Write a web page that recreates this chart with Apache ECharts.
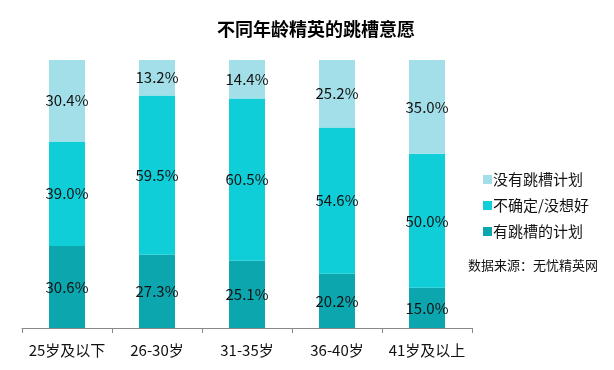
<!DOCTYPE html>
<html><head><meta charset="utf-8">
<script src="https://cdn.jsdelivr.net/npm/echarts@6/dist/echarts.min.js"></script>
<style>html,body{margin:0;padding:0;background:#fff}#c{width:614px;height:370px}</style>
</head><body><div id="c"></div>
<script>
var categories = ['25岁及以下', '26-30岁', '31-35岁', '36-40岁', '41岁及以上'];
var planToJump = [30.6, 27.3, 25.1, 20.2, 15.0];
var unsure = [39.0, 59.5, 60.5, 54.6, 50.0];
var noPlan = [30.4, 13.2, 14.4, 25.2, 35.0];
var seriesNames = ['有跳槽的计划', '不确定/没想好', '没有跳槽计划'];
var titleText = '不同年龄精英的跳槽意愿';
var sourceText = '数据来源：无忧精英网';

var FONT = '"Noto Sans CJK SC", "Microsoft YaHei", sans-serif';
var chart = echarts.init(document.getElementById('c'));
function mk(name, data, color) {
  return {
    name: name, type: 'bar', stack: 'a', data: data, barWidth: 36,
    itemStyle: { color: color },
    label: { show: true, position: 'inside', color: '#111', fontSize: 15, fontFamily: FONT,
      formatter: function (p) { return p.value.toFixed(1) + '%'; } }
  };
}
chart.setOption({
  animation: false,
  title: { text: titleText, left: 311, top: 15, textAlign: 'center',
    textStyle: { fontSize: 18, fontWeight: 'bold', color: '#000', fontFamily: FONT } },
  legend: {
    data: [seriesNames[2], seriesNames[1], seriesNames[0]],
    orient: 'vertical', left: 478, top: 167, itemGap: 11,
    itemWidth: 9, itemHeight: 9, icon: 'rect',
    textStyle: { fontSize: 15, color: '#111', fontFamily: FONT, padding: [0, 0, 0, -4] }
  },
  graphic: [{ type: 'text', left: 468, top: 259,
    style: { text: sourceText, fontSize: 13, fill: '#111', fontFamily: FONT } }],
  grid: { left: 22, top: 60, width: 450, height: 268 },
  xAxis: { type: 'category', data: categories,
    axisLine: { lineStyle: { color: '#888' } },
    axisTick: { show: true, length: 5, lineStyle: { color: '#888' } },
    axisLabel: { fontSize: 15, color: '#111', margin: 15, interval: 0, fontFamily: FONT } },
  yAxis: { type: 'value', min: 0, max: 100, show: false, splitLine: { show: false } },
  series: [
    mk(seriesNames[0], planToJump, '#0BA6AE'),
    mk(seriesNames[1], unsure, '#0FCED8'),
    mk(seriesNames[2], noPlan, '#A3DFE8')
  ]
});
</script></body></html>
